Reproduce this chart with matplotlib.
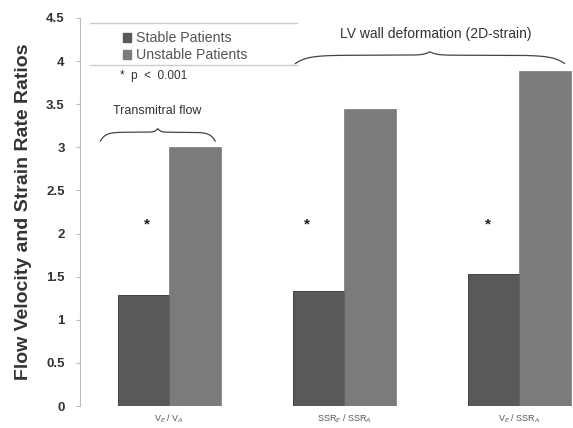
import matplotlib
matplotlib.use("Agg")
import matplotlib.pyplot as plt
import numpy as np
from matplotlib.lines import Line2D
from matplotlib.patches import Patch

plt.rcParams['font.family'] = ['Liberation Sans', 'DejaVu Sans']

categories = ["V$_E$ / V$_A$", "SSR$_E$ / SSR$_A$", "V$_E$ / SSR$_A$"]
stable = [1.29, 1.33, 1.53]
unstable = [3.0, 3.45, 3.88]
yticks = [0, 0.5, 1, 1.5, 2, 2.5, 3, 3.5, 4, 4.5]
ytick_labels = ["0", "0.5", "1", "1.5", "2", "2.5", "3", "3.5", "4", "4.5"]
asterisk_x = [-0.126, 0.789, 1.823]
asterisk_y = [2.1, 2.1, 2.1]

c_stable = "#595959"
c_unstable = "#7b7b7b"

fig = plt.figure(figsize=(5.73, 4.28), dpi=100)
ax = fig.add_axes([0.1396, 0.0514, 0.8604, 0.9066])

x = np.arange(len(categories))
w = 0.295
ax.bar(x - w/2, stable, width=w, color=c_stable, edgecolor="#333333", linewidth=0.6)
ax.bar(x + w/2, unstable, width=w, color=c_unstable, edgecolor="#6a6a6a", linewidth=0.4)

ax.set_xlim(-0.51, 2.307)
ax.set_ylim(0, 4.5)
ax.set_yticks(yticks)
ax.set_yticklabels(ytick_labels, fontsize=9.5, fontweight="bold", color="#333333")
ax.set_xticks(x)
ax.set_xticklabels(categories, fontsize=6.5, color="#555555")
ax.tick_params(axis="x", length=0, pad=5)
ax.tick_params(axis="y", length=3, color="#bbbbbb", pad=8)
for s in ["top", "right", "bottom"]:
    ax.spines[s].set_visible(False)
ax.spines["left"].set_color("#bbbbbb")
ax.set_ylabel("Flow Velocity and Strain Rate Ratios", fontsize=14, fontweight="bold",
              color="#333333", labelpad=10)

# significance asterisks
for xa, ya in zip(asterisk_x, asterisk_y):
    ax.text(xa, ya, "*", ha="center", va="center", fontsize=11, fontweight="bold", color="#222222")

# legend
handles = [Patch(facecolor=c_stable, edgecolor=c_stable, label="Stable Patients"),
           Patch(facecolor=c_unstable, edgecolor=c_unstable, label="Unstable Patients")]
leg = ax.legend(handles=handles, loc="upper left", bbox_to_anchor=(0.075, 0.98), frameon=False,
                fontsize=10.2, handlelength=0.6, handleheight=0.6, handletextpad=0.35,
                labelspacing=0.2, borderaxespad=0)
for t in leg.get_texts():
    t.set_color("#555555")
for yy in [0.987, 0.879]:
    ax.add_line(Line2D([0.02, 0.44], [yy, yy], transform=ax.transAxes, color="#cccccc", linewidth=1))

ax.text(0.082, 0.85, "*  p  <  0.001", transform=ax.transAxes, fontsize=8.5, color="#333333",
        va="center", ha="left")

def brace(ax, x0, x1, y0, h):
    t = np.linspace(0, 1, 200)
    xs = x0 + (x1 - x0) * t
    u = np.where(t < 0.5, t * 2, (1 - t) * 2)
    ys = y0 + h * ((1 - np.exp(-u * 12)) * 0.7 + 0.3 * np.exp(-(1 - u) * 25))
    ax.plot(xs, ys, color="#444444", linewidth=0.9, solid_capstyle="round")

brace(ax, -0.394, 0.263, 3.07, 0.15)
brace(ax, 0.72, 2.26, 3.97, 0.14)

ax.text(-0.07, 3.42, "Transmitral flow", ha="center", va="center", fontsize=9, color="#333333")
ax.text(1.52, 4.31, "LV wall deformation (2D-strain)", ha="center", va="center", fontsize=10, color="#333333")

fig.savefig("out.png", dpi=100)
